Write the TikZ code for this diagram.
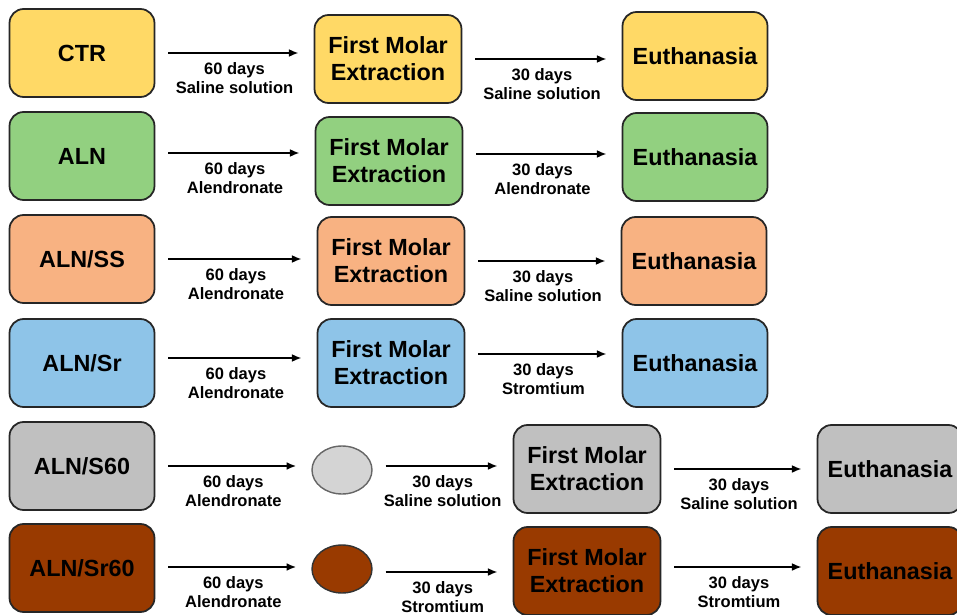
\documentclass[tikz,border=0pt]{standalone}
\usepackage{fontspec}
\setmainfont{Liberation Sans}
\usetikzlibrary{shapes.geometric,arrows.meta}

\definecolor{ctryellow}{RGB}{255,217,102}
\definecolor{alngreen}{RGB}{146,208,128}
\definecolor{ssorange}{RGB}{248,178,130}
\definecolor{srblue}{RGB}{142,196,232}
\definecolor{sgray}{RGB}{192,192,192}
\definecolor{ellgray}{RGB}{212,212,212}
\definecolor{srbrown}{RGB}{153,58,0}

\tikzset{
    grpbox/.style={draw=black!85, line width=1pt, rounded corners=8pt, minimum width=2.9cm, minimum height=1.76cm, align=center, font=\fontsize{13.3}{15.3}\selectfont\bfseries},
    stagebox/.style={grpbox, minimum width=2.94cm},
    doseell/.style={ellipse, draw=black!60, line width=0.8pt, minimum width=1.2cm, minimum height=0.96cm},
    flow/.style={-{Latex[length=5.5pt,width=4.5pt]}, line width=1.1pt, shorten <=0.26cm, shorten >=0.3cm},
    daylabel/.style={midway, below, align=center, inner sep=4.8pt, font=\fontsize{9.4}{10.8}\selectfont\bfseries}
}

\begin{document}
\begin{tikzpicture}[x=0.02cm, y=-0.02cm]
    \useasboundingbox (0,0) rectangle (957,615);
    % Row 1: CTR
    \node[grpbox, fill=ctryellow] (ctr) at (82,53) {CTR};
    \node[stagebox, fill=ctryellow] (ctrfme) at (388,59) {First Molar\\Extraction};
    \node[grpbox, fill=ctryellow] (ctreu) at (695,56) {Euthanasia};
    \draw[flow] (ctr.east) -- (ctr.east -| ctrfme.west) node[daylabel] (ctrla) {60 days\\Saline solution};
    \draw[flow] (ctrfme.east) -- (ctrfme.east -| ctreu.west) node[daylabel] (ctrlb) {30 days\\Saline solution};
    % Row 2: ALN
    \node[grpbox, fill=alngreen] (aln) at (82,156) {ALN};
    \node[stagebox, fill=alngreen] (alnfme) at (389,161) {First Molar\\Extraction};
    \node[grpbox, fill=alngreen] (alneu) at (695,157) {Euthanasia};
    \draw[flow] (aln.east |- 0,153) -- (alnfme.west |- 0,153) node[daylabel] (alnla) {60 days\\Alendronate};
    \draw[flow] (alnfme.east |- 0,154) -- (alneu.west |- 0,154) node[daylabel] (alnlb) {30 days\\Alendronate};
    % Row 3: ALN/SS
    \node[grpbox, fill=ssorange] (alnss) at (82,259) {ALN/SS};
    \node[stagebox, fill=ssorange] (alnssfme) at (391,261) {First Molar\\Extraction};
    \node[grpbox, fill=ssorange] (alnsseu) at (694,261) {Euthanasia};
    \draw[flow] (alnss.east) -- (alnss.east -| alnssfme.west) node[daylabel] (alnssla) {60 days\\Alendronate};
    \draw[flow] (alnssfme.east) -- (alnssfme.east -| alnsseu.west) node[daylabel] (alnsslb) {30 days\\Saline solution};
    % Row 4: ALN/Sr
    \node[grpbox, fill=srblue] (alnsr) at (82,363) {ALN/Sr};
    \node[stagebox, fill=srblue] (alnsrfme) at (391,363) {First Molar\\Extraction};
    \node[grpbox, fill=srblue] (alnsreu) at (695,363) {Euthanasia};
    \draw[flow] (alnsr.east |- 0,358) -- (alnsrfme.west |- 0,358) node[daylabel] (alnsrla) {60 days\\Alendronate};
    \draw[flow] (alnsrfme.east |- 0,354) -- (alnsreu.west |- 0,354) node[daylabel] (alnsrlb) {30 days\\Stromtium};
    % Row 5: ALN/S60
    \node[grpbox, fill=sgray] (alns) at (82,466) {ALN/S60};
    \node[doseell, fill=ellgray] (alnsell) at (342,470) {};
    \node[stagebox, fill=sgray] (alnsfme) at (587,469) {First Molar\\Extraction};
    \node[grpbox, fill=sgray] (alnseu) at (890,469) {Euthanasia};
    \draw[flow] (alns.east) -- (alns.east -| alnsell.west) node[daylabel] (alnsla) {60 days\\Alendronate};
    \draw[flow] (alnsell.east |- 0,466) -- (alnsfme.west |- 0,466) node[daylabel] (alnslb) {30 days\\Saline solution};
    \draw[flow] (alnsfme.east) -- (alnsfme.east -| alnseu.west) node[daylabel] (alnslc) {30 days\\Saline solution};
    % Row 6: ALN/Sr60
    \node[grpbox, fill=srbrown] (alnsrs) at (82,568) {ALN/Sr60};
    \node[doseell, fill=srbrown, draw=black!80] (alnsrsell) at (342,569) {};
    \node[stagebox, fill=srbrown] (alnsrsfme) at (587,571) {First Molar\\Extraction};
    \node[grpbox, fill=srbrown] (alnsrseu) at (890,571) {Euthanasia};
    \draw[flow] (alnsrs.east |- 0,567) -- (alnsrsell.west |- 0,567) node[daylabel] (alnsrsla) {60 days\\Alendronate};
    \draw[flow] (alnsrsell.east |- 0,572) -- (alnsrsfme.west |- 0,572) node[daylabel] (alnsrslb) {30 days\\Stromtium};
    \draw[flow] (alnsrsfme.east |- 0,567) -- (alnsrseu.west |- 0,567) node[daylabel] (alnsrslc) {30 days\\Stromtium};
\end{tikzpicture}
\end{document}
